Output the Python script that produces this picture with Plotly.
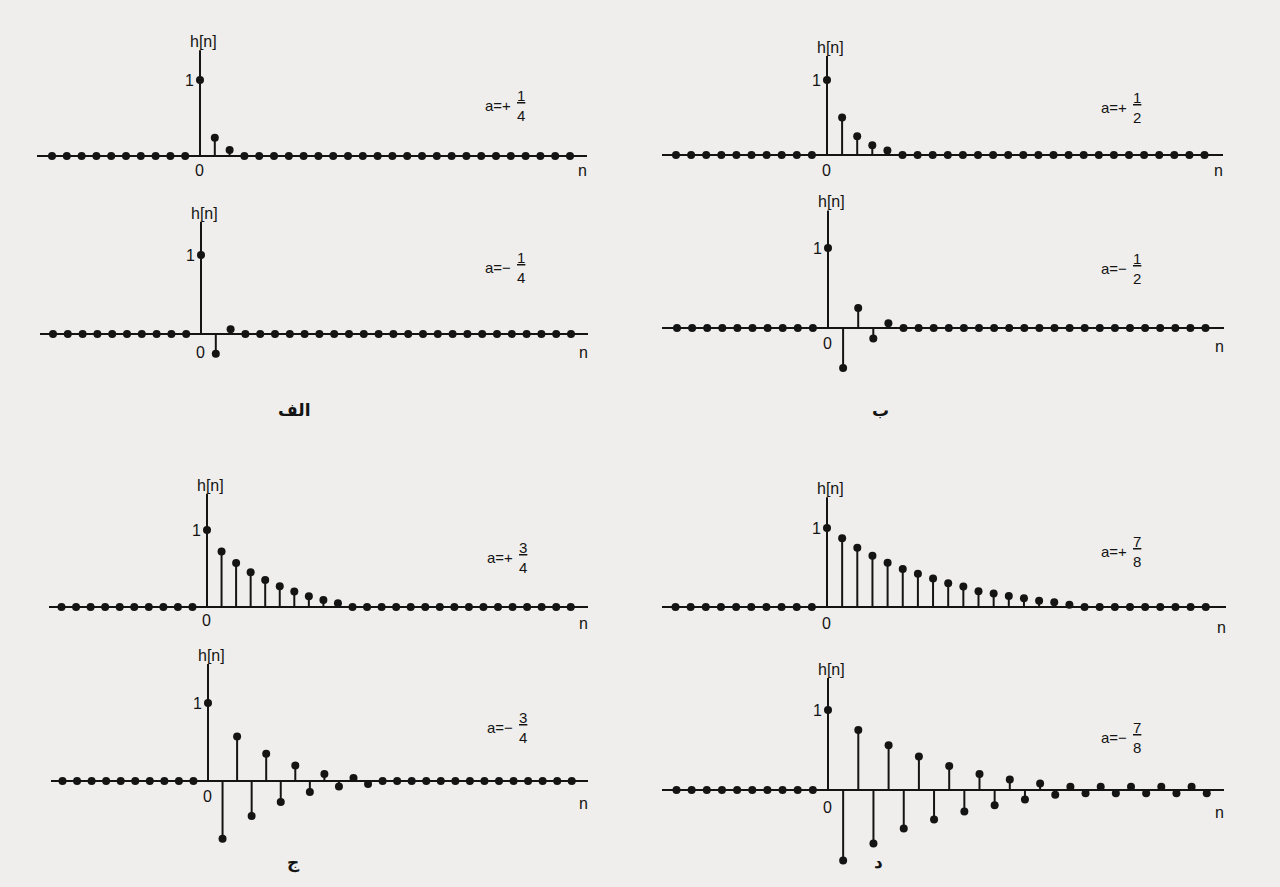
import plotly.graph_objects as go

W, H = 1280, 887

# ---------------- data ----------------
n = list(range(-10, 26))
h_before_zero = [0, 0, 0, 0, 0, 0, 0, 0, 0, 0]  # n = -10 .. -1

# values for n = 0 .. 25
h_a_plus_1_4 = [1, 0.24, 0.08, 0, 0, 0, 0, 0, 0, 0, 0, 0, 0,
                0, 0, 0, 0, 0, 0, 0, 0, 0, 0, 0, 0, 0]
h_a_minus_1_4 = [1, -0.25, 0.06, 0, 0, 0, 0, 0, 0, 0, 0, 0, 0,
                 0, 0, 0, 0, 0, 0, 0, 0, 0, 0, 0, 0, 0]
h_a_plus_1_2 = [1, 0.5, 0.25, 0.13, 0.06, 0, 0, 0, 0, 0, 0, 0, 0,
                0, 0, 0, 0, 0, 0, 0, 0, 0, 0, 0, 0, 0]
h_a_minus_1_2 = [1, -0.5, 0.25, -0.13, 0.06, 0, 0, 0, 0, 0, 0, 0, 0,
                 0, 0, 0, 0, 0, 0, 0, 0, 0, 0, 0, 0, 0]
h_a_plus_3_4 = [1, 0.72, 0.57, 0.45, 0.35, 0.27, 0.2, 0.14, 0.09, 0.05, 0, 0, 0,
                0, 0, 0, 0, 0, 0, 0, 0, 0, 0, 0, 0, 0]
h_a_minus_3_4 = [1, -0.74, 0.57, -0.45, 0.35, -0.27, 0.2, -0.14, 0.09, -0.07, 0.04, -0.04, 0,
                 0, 0, 0, 0, 0, 0, 0, 0, 0, 0, 0, 0, 0]
h_a_plus_7_8 = [1, 0.87, 0.75, 0.65, 0.56, 0.48, 0.42, 0.36, 0.3, 0.26, 0.2, 0.17, 0.14,
                0.11, 0.08, 0.06, 0.03, 0, 0, 0, 0, 0, 0, 0, 0, 0]
h_a_minus_7_8 = [1, -0.88, 0.75, -0.67, 0.56, -0.48, 0.42, -0.37, 0.3, -0.27, 0.2, -0.19, 0.13,
                 -0.12, 0.08, -0.06, 0.04, -0.04, 0.04, -0.04, 0.04, -0.04, 0.04, -0.04, 0.04, -0.04]

a_signs = ["+", "−", "+", "−", "+", "−", "+", "−"]
a_numerators = ["1", "1", "1", "1", "3", "3", "7", "7"]
a_denominators = ["4", "4", "2", "2", "4", "4", "8", "8"]
group_labels = ["الف", "ب", "ج", "د"]

series = [h_a_plus_1_4, h_a_minus_1_4, h_a_plus_1_2, h_a_minus_1_2,
          h_a_plus_3_4, h_a_minus_3_4, h_a_plus_7_8, h_a_minus_7_8]

# ---------------- layout (pixel geometry of each panel) ----------------
# x0/x1: axis line extent, stem: pixel of n=0, sp: pixels per sample
# base: pixel of h=0, unit: pixels per 1.0, top/bot: plot area, ytop: vertical axis top
# ay: y (data) of "a=" label, zoff/noff: offsets of "0" and "n" labels
# ax: pixel x of right edge of "a=+" text, fx: pixel x of fraction centre
panels = [
    dict(x0=37, x1=587, stem=200, sp=14.8, base=156, unit=76, top=18, bot=190, ytop=1.39, ay=0.66, zoff=14, noff=14, ax=513, fx=521),
    dict(x0=40, x1=588, stem=201, sp=14.8, base=334, unit=79, top=195, bot=385, ytop=1.42, ay=0.84, zoff=18, noff=18, ax=513, fx=521),
    dict(x0=662, x1=1223, stem=827, sp=15.1, base=155, unit=75, top=18, bot=190, ytop=1.32, ay=0.64, zoff=15, noff=15, ax=1129, fx=1137),
    dict(x0=662, x1=1224, stem=828, sp=15.1, base=328, unit=80, top=195, bot=385, ytop=1.47, ay=0.74, zoff=15, noff=18, ax=1129, fx=1137),
    dict(x0=49, x1=588, stem=207, sp=14.55, base=607, unit=77, top=460, bot=640, ytop=1.47, ay=0.64, zoff=13, noff=16, ax=515, fx=523),
    dict(x0=51, x1=588, stem=208, sp=14.55, base=781, unit=78, top=650, bot=850, ytop=1.5, ay=0.69, zoff=15, noff=22, ax=515, fx=523),
    dict(x0=662, x1=1226, stem=827, sp=15.15, base=607, unit=79, top=460, bot=640, ytop=1.39, ay=0.70, zoff=16, noff=20, ax=1129, fx=1137),
    dict(x0=662, x1=1224, stem=828, sp=15.15, base=790, unit=80, top=655, bot=875, ytop=1.4, ay=0.66, zoff=17, noff=22, ax=1129, fx=1137),
]
group_label_pos = [(294, 410), (880, 410), (293, 862), (878, 862)]

FONT = "Liberation Sans, Arial, sans-serif"
INK = "#141414"
BG = "#efeeec"

fig = go.Figure()
annotations = []
shapes = []

for i, (p, vals) in enumerate(zip(panels, series)):
    k = "" if i == 0 else str(i + 1)
    xa, ya = "x" + k, "y" + k
    h = h_before_zero + vals

    # stems
    sx, sy = [], []
    for ni, hi in zip(n, h):
        if hi != 0:
            sx += [ni, ni, None]
            sy += [0, hi, None]
    fig.add_trace(go.Scatter(x=sx, y=sy, mode="lines", xaxis=xa, yaxis=ya,
                             line=dict(color=INK, width=2), hoverinfo="skip",
                             showlegend=False))
    # dots
    fig.add_trace(go.Scatter(x=n, y=h, mode="markers", xaxis=xa, yaxis=ya,
                             marker=dict(color=INK, size=8), showlegend=False))

    xr = [-(p["stem"] - p["x0"]) / p["sp"], (p["x1"] - p["stem"]) / p["sp"]]
    yr = [-(p["bot"] - p["base"]) / p["unit"], (p["base"] - p["top"]) / p["unit"]]
    xdom = [p["x0"] / W, p["x1"] / W]
    ydom = [1 - p["bot"] / H, 1 - p["top"] / H]

    fig.update_layout({
        "xaxis" + k: dict(domain=xdom, range=xr, anchor=ya, visible=False, fixedrange=True),
        "yaxis" + k: dict(domain=ydom, range=yr, anchor=xa, showgrid=False,
                          showticklabels=False, ticks="", showline=False,
                          zeroline=True, zerolinecolor=INK, zerolinewidth=2,
                          fixedrange=True),
    })

    # vertical h[n] axis from 0 up
    shapes.append(dict(type="line", xref=xa, yref=ya, x0=0, x1=0, y0=0, y1=p["ytop"],
                       line=dict(color=INK, width=2), layer="below"))

    tf = dict(family=FONT, size=16, color=INK)
    annotations += [
        dict(xref=xa, yref=ya, x=0, y=p["ytop"], text="h[n]", showarrow=False,
             yanchor="bottom", xanchor="center", yshift=-2, xshift=3, font=tf),
        dict(xref=xa, yref=ya, x=0, y=1, text="1", showarrow=False,
             xanchor="right", xshift=-4, font=tf),
        dict(xref=xa, yref=ya, x=0, y=0, text="0", showarrow=False,
             yanchor="middle", yshift=-p["zoff"], xshift=-1, font=tf),
        dict(xref=xa, yref=ya, x=xr[1], y=0, text="n", showarrow=False,
             yanchor="middle", xanchor="center", yshift=-p["noff"], xshift=-5, font=tf),
        dict(xref="paper", yref=ya, x=p["ax"] / W, y=p["ay"], text="a=" + a_signs[i],
             showarrow=False, xanchor="right", font=dict(family=FONT, size=15, color=INK)),
        dict(xref="paper", yref=ya, x=p["fx"] / W, y=p["ay"],
             text="<u>" + a_numerators[i] + "</u><br>" + a_denominators[i],
             showarrow=False, xanchor="center", yanchor="middle",
             font=dict(family=FONT, size=15, color=INK)),
    ]

for lbl, (px, py) in zip(group_labels, group_label_pos):
    annotations.append(dict(xref="paper", yref="paper", x=px / W, y=1 - py / H, text="<b>" + lbl + "</b>",
                            showarrow=False, xanchor="center", yanchor="middle",
                            font=dict(family="DejaVu Sans", size=17, color=INK)))

fig.update_layout(width=W, height=H, margin=dict(l=0, r=0, t=0, b=0),
                  paper_bgcolor=BG, plot_bgcolor=BG, showlegend=False,
                  annotations=annotations, shapes=shapes)

fig.write_html("out.html", config={"displayModeBar": False},
               post_script="document.body.style.margin='0';"
                           "document.body.style.background='" + BG + "';"
                           "document.body.style.overflow='hidden';")
